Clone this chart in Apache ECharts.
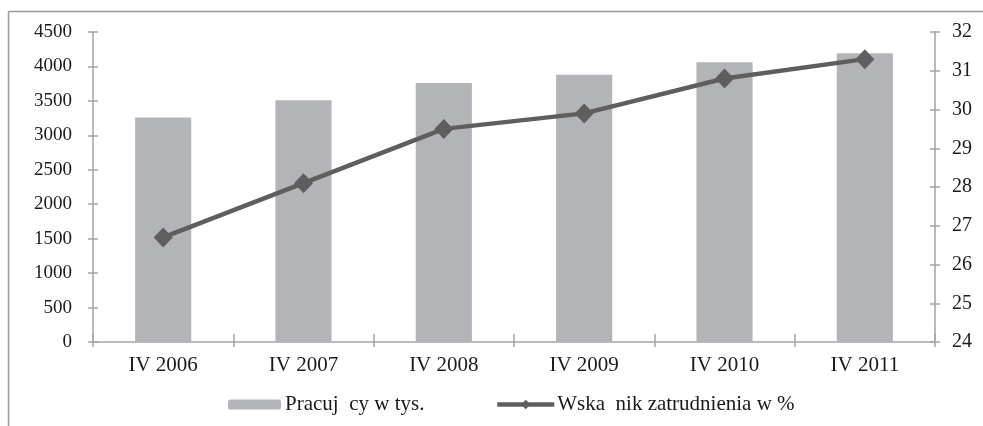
<!DOCTYPE html>
<html>
<head>
<meta charset="utf-8">
<script src="https://cdn.jsdelivr.net/npm/echarts@6/dist/echarts.min.js"></script>
<style>
html,body{margin:0;padding:0;background:#fff;}
#c{width:983px;height:426px;}
</style>
</head>
<body>
<div id="c"></div>
<script>
var categories = ['IV 2006', 'IV 2007', 'IV 2008', 'IV 2009', 'IV 2010', 'IV 2011'];
var workers = [3260, 3510, 3760, 3880, 4060, 4190];
var employmentRate = [26.7, 28.1, 29.5, 29.9, 30.8, 31.3];
var barName = 'Pracuj  cy w tys.';
var lineName = 'Wska  nik zatrudnienia w %';

var FONT = 'Liberation Serif';
var axisCol = '#a4a4a4';
var textCol = '#1a1a1a';

var chart = echarts.init(document.getElementById('c'));
var axLine = {show: true, lineStyle: {color: axisCol, width: 1.5}};
chart.setOption({
  animation: false,
  backgroundColor: '#fff',
  grid: {left: 93, right: 48, top: 32, bottom: 84, containLabel: false},
  graphic: [
    {type: 'line', shape: {x1: 8.5, y1: 11.5, x2: 983, y2: 11.5}, style: {stroke: '#9a9a9a', lineWidth: 1.5}, silent: true},
    {type: 'line', shape: {x1: 8.5, y1: 11.5, x2: 8.5, y2: 426}, style: {stroke: '#9a9a9a', lineWidth: 1.5}, silent: true}
  ],
  legend: [
    {data: [barName], left: 223, top: 389, itemWidth: 53, itemHeight: 10, itemGap: 0,
     textStyle: {fontFamily: FONT, fontSize: 21, color: textCol, padding: [0, 0, 0, -1]}},
    {data: [lineName], left: 490, top: 389, itemWidth: 57, itemHeight: 12, itemGap: 0,
     lineStyle: {width: 4.5},
     textStyle: {fontFamily: FONT, fontSize: 21, color: textCol, padding: [0, 0, 0, -2]}}
  ],
  xAxis: [
    {type: 'category', data: categories, boundaryGap: true,
     axisLine: axLine,
     axisTick: {show: true, length: 5, lineStyle: {color: axisCol, width: 1.5}},
     axisLabel: {fontFamily: FONT, fontSize: 21, color: textCol, margin: 13},
     splitLine: {show: false}},
    {type: 'category', data: categories, boundaryGap: true, position: 'bottom',
     axisLine: {show: false},
     axisTick: {show: true, inside: true, length: 8, lineStyle: {color: axisCol, width: 1.5}},
     axisLabel: {show: false}, splitLine: {show: false}}
  ],
  yAxis: [
    {type: 'value', min: 0, max: 4500, interval: 500, position: 'left',
     axisLine: axLine,
     axisTick: {show: true, length: 5, lineStyle: {color: axisCol, width: 1.5}},
     axisLabel: {fontFamily: FONT, fontSize: 19, color: textCol, margin: 21,
                 formatter: function (v) { return String(v); }},
     splitLine: {show: false}},
    {type: 'value', min: 24, max: 32, interval: 1, position: 'right',
     axisLine: axLine,
     axisTick: {show: true, length: 5, lineStyle: {color: axisCol, width: 1.5}},
     axisLabel: {fontFamily: FONT, fontSize: 20, color: textCol, margin: 17},
     splitLine: {show: false}},
    {type: 'value', min: 0, max: 4500, interval: 500, position: 'left',
     axisLine: {show: false},
     axisTick: {show: true, inside: true, length: 5, lineStyle: {color: axisCol, width: 1.5}},
     axisLabel: {show: false}, splitLine: {show: false}},
    {type: 'value', min: 24, max: 32, interval: 1, position: 'right',
     axisLine: {show: false},
     axisTick: {show: true, inside: true, length: 5, lineStyle: {color: axisCol, width: 1.5}},
     axisLabel: {show: false}, splitLine: {show: false}}
  ],
  series: [
    {name: barName, type: 'bar', data: workers, xAxisIndex: 0, yAxisIndex: 0,
     barWidth: '40%', itemStyle: {color: '#b3b4b8'}},
    {name: lineName, type: 'line', data: employmentRate, xAxisIndex: 0, yAxisIndex: 1,
     symbol: 'diamond', symbolSize: [19, 20],
     lineStyle: {color: '#5e5e5e', width: 4.5},
     itemStyle: {color: '#5e5e5e'}, z: 3}
  ]
});
</script>
</body>
</html>
